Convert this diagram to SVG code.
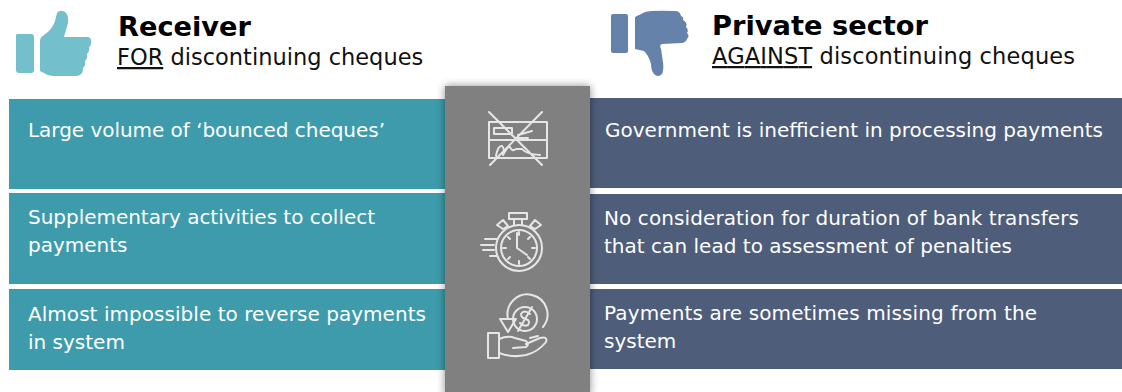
<svg xmlns="http://www.w3.org/2000/svg" width="1122" height="392" viewBox="0 0 1122 392">
<style>
text{font-family:"DejaVu Sans","Liberation Sans",sans-serif}
.h{font-size:27px;font-weight:700;fill:#000}
.s{font-size:22.5px;fill:#111}
.t{font-size:20px;fill:#fff}
.l{fill:#3e9bab}
.r{fill:#4e5d7a}
.i{fill:none;stroke:#e6e6e6;stroke-width:2;stroke-linecap:round;stroke-linejoin:round}
</style>
<defs><filter id="sh" x="-15%" y="-5%" width="130%" height="110%"><feGaussianBlur stdDeviation="4"/></filter></defs>
<rect width="1122" height="392" fill="#fff"/>
<g id="receiver-header">
<path fill="#73bfcc" d="M17 34H31Q34 34 34 37V70Q34 73 31 73H19Q16 73 16 70V36Q16 34 17 34ZM40 41Q40 37 44 35Q52 30 55 21L57 13Q60 9 65 12Q69 15 68 23L64 37H88Q92 38 91 43Q91 46 89 47Q90 51 87 54Q88 58 85 61Q86 65 83 68Q83 76 76 76H54Q48 76 44 73L40 71Z"/>
<text class="h" x="118" y="36" textLength="133" lengthAdjust="spacingAndGlyphs">Receiver</text>
<text class="s" x="117" y="65"><tspan text-decoration="underline">FOR</tspan> discontinuing cheques</text>
</g>
<g id="private-header">
<path fill="#6583aa" d="M613 14H626Q628 14 628 16V51Q628 53 626 53H613Q611 53 611 51V16Q611 14 613 14ZM635 17L645 12Q652 10 675 11Q680 11 681 16Q684 17 683 20Q688 23 686 27Q689 30 687 33Q690 36 687 39Q686 42 682 43L662 44Q659 45 661 49L663 62Q664 70 662 74Q658 78 654 74Q651 70 651 64Q649 56 644 51L635 49Z"/>
<text class="h" x="712" y="35" textLength="216" lengthAdjust="spacingAndGlyphs">Private sector</text>
<text class="s" x="712" y="64" textLength="363"><tspan text-decoration="underline">AGAINST</tspan> discontinuing cheques</text>
</g>
<g id="receiver-rows">
<g id="r1"><rect class="l" x="9" y="99" width="436" height="90"/><text class="t" x="28" y="137" textLength="357">Large volume of ‘bounced cheques’</text></g>
<g id="r2"><rect class="l" x="9" y="193" width="436" height="91"/><text class="t" x="28" y="224" textLength="347">Supplementary activities to collect</text><text class="t" x="28" y="252">payments</text></g>
<g id="r3"><rect class="l" x="9" y="289" width="436" height="81"/><text class="t" x="28" y="321" textLength="398">Almost impossible to reverse payments</text><text class="t" x="28" y="349">in system</text></g>
</g>
<g id="private-rows">
<g id="p1"><rect class="r" x="590" y="98" width="532" height="90"/><text class="t" x="605" y="137" textLength="498">Government is inefficient in processing payments</text></g>
<g id="p2"><rect class="r" x="590" y="194" width="532" height="90"/><text class="t" x="604" y="225" textLength="475">No consideration for duration of bank transfers</text><text class="t" x="604" y="253" textLength="408">that can lead to assessment of penalties</text></g>
<g id="p3"><rect class="r" x="590" y="289" width="532" height="80"/><text class="t" x="604" y="320" textLength="433">Payments are sometimes missing from the</text><text class="t" x="604" y="348">system</text></g>
</g>
<g id="centre">
<rect x="445" y="86" width="145" height="310" fill="#000" opacity=".45" filter="url(#sh)"/>
<rect x="445" y="86" width="145" height="306" fill="#808080"/>
<g id="icon-cheque" class="i">
<path d="M489 122H547V158H489ZM489 140H547M494 128H512V134H494ZM518 135L532 131M518 138H528M496 156Q498 145 502 146Q505 148 503 155Q508 146 510 147Q512 152 516 149L522 149Q526 154 540 155M490 165L542 112M489 112L542 165"/>
</g>
<g id="icon-watch" class="i">
<circle cx="519" cy="248" r="23"/><circle cx="519" cy="248" r="18"/><path d="M517 248V233M517 248L527 255M509 213H527V219H509ZM514 219V225M522 219V225M497 225L503 220L508 226L503 229ZM541 225L535 220L530 226L535 229ZM481 245H494M485 239H497M483 250H494M490 256H497M519 232V235M519 261V264M503 248H506M532 248H535M508 237L510 239M530 237L528 239M508 259L510 257M530 259L528 257"/>
</g>
<g id="icon-money" class="i">
<path d="M508 319A20 20 0 1 1 543 327M500 319H516L508 332Z"/><circle cx="525" cy="319" r="12"/><path d="M518 331L532 307M530 314Q524 309 521 314Q521 318 526 319Q531 321 528 325Q524 327 520 323"/><rect x="488" y="333" width="11" height="25"/><path d="M499 339Q508 335 515 338L526 341Q530 344 526 347L513 348M526 344L540 338Q548 336 546 342Q538 352 526 355Q512 358 499 353M530 338L538 336"/>
</g>
</g>
</svg>
